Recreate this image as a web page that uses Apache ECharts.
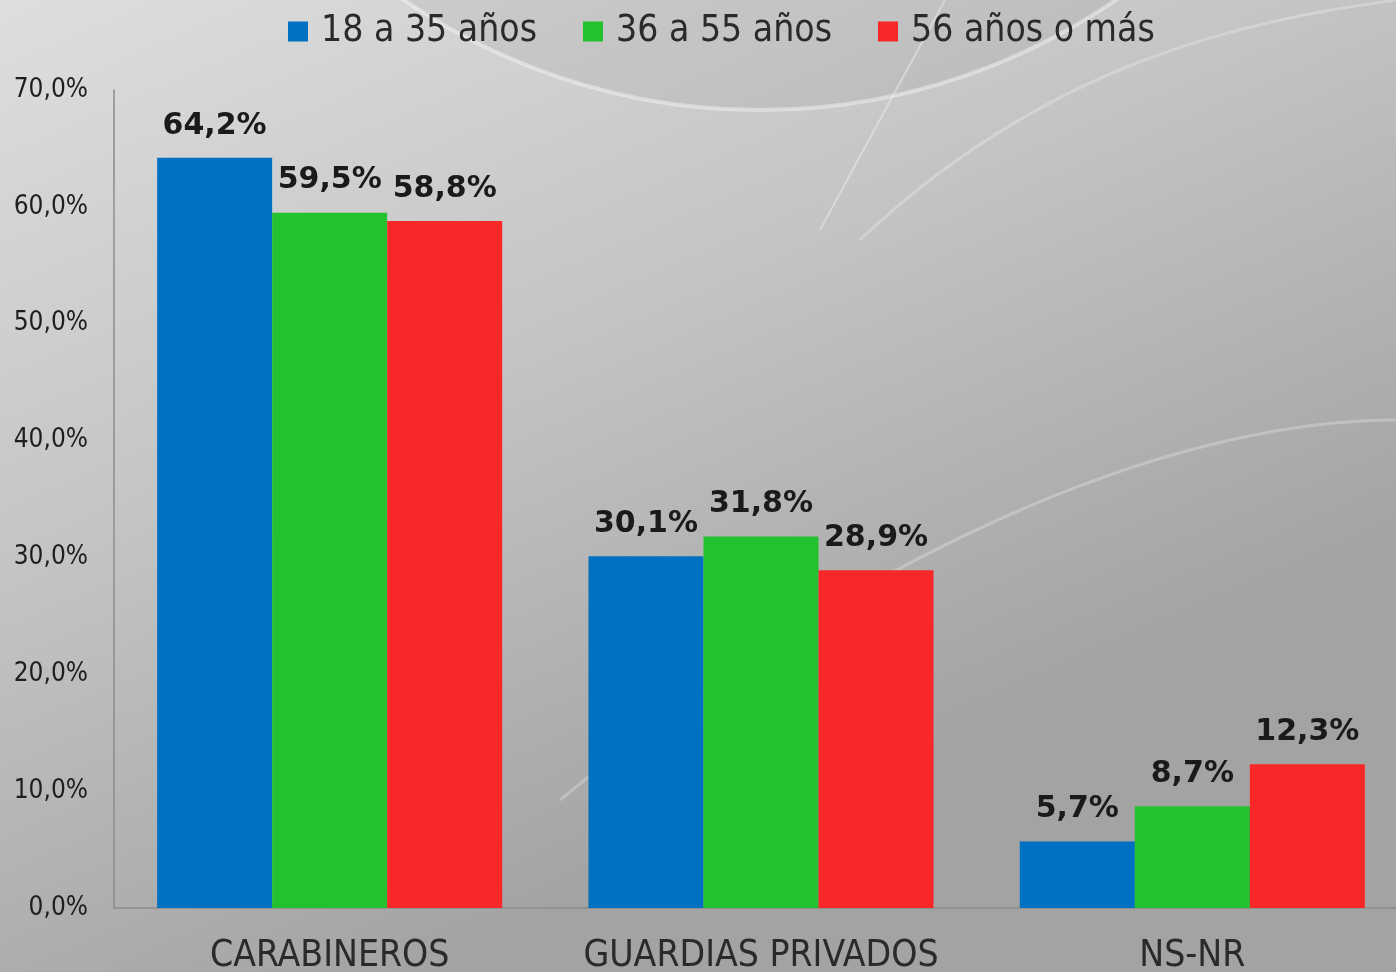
<!DOCTYPE html>
<html>
<head>
<meta charset="utf-8">
<script src="https://cdn.jsdelivr.net/npm/echarts@6/dist/echarts.min.js"></script>
<style>
  html, body { margin: 0; padding: 0; }
  #chart { width: 1396px; height: 972px; }
</style>
</head>
<body>
<div id="chart"></div>
<script>
// datos
const categorias = ['CARABINEROS', 'GUARDIAS PRIVADOS', 'NS-NR']
const grupos = ['18 a 35 años', '36 a 55 años', '56 años o más']
const joven = [64.2, 30.1, 5.7]
const medio = [59.5, 31.8, 8.7]
const mayor = [58.8, 28.9, 12.3]
const colores = ['#0070c0', '#23c12f', '#f92828']

const pct = v => v.toFixed(1).replace('.', ',') + '%'

const chart = echarts.init(document.getElementById('chart'))

const serie = (name, data) => ({
  name: name,
  type: 'bar',
  data: data,
  barGap: '0%',
  barCategoryGap: '20%',
  label: {
    show: true,
    position: 'top',
    distance: 17,
    formatter: p => pct(p.value),
    fontFamily: 'DejaVu Sans',
    fontWeight: 'bold',
    fontSize: 30,
    color: '#1a1a1a'
  }
})

const option = {
  backgroundColor: {
    type: 'linear', x: 0, y: 0, x2: 0.3, y2: 1,
    colorStops: [
      { offset: 0, color: '#dedede' },
      { offset: 0.5, color: '#c4c4c4' },
      { offset: 1, color: '#a3a3a3' }
    ]
  },
  color: colores,
  // curvas claras del fondo
  graphic: [
    {
      type: 'circle', silent: true, z: -10,
      shape: { cx: 760, cy: -520, r: 630 },
      style: { fill: 'rgba(110,110,110,0.10)', stroke: 'rgba(255,255,255,0.4)', lineWidth: 4 }
    },
    {
      type: 'bezierCurve', silent: true, z: -10,
      shape: { x1: 860, y1: 240, x2: 1396, y2: 0, cpx1: 1050, cpy1: 60, cpx2: 1250, cpy2: 20 },
      style: { fill: null, stroke: 'rgba(255,255,255,0.25)', lineWidth: 3 }
    },
    {
      type: 'bezierCurve', silent: true, z: -10,
      shape: { x1: 560, y1: 800, x2: 1396, y2: 420, cpx1: 900, cpy1: 520, cpx2: 1200, cpy2: 420 },
      style: { fill: null, stroke: 'rgba(255,255,255,0.25)', lineWidth: 3 }
    },
    {
      type: 'line', silent: true, z: -10,
      shape: { x1: 820, y1: 230, x2: 945, y2: 0 },
      style: { stroke: 'rgba(255,255,255,0.35)', lineWidth: 2 }
    }
  ],
  legend: {
    data: grupos,
    top: 8,
    left: 283,
    icon: 'rect',
    itemWidth: 20,
    itemHeight: 20,
    itemGap: 46,
    textStyle: {
      fontFamily: 'DejaVu Sans Condensed',
      fontSize: 37,
      color: '#2a2a2a',
      padding: [0, 0, 0, 8]
    }
  },
  grid: {
    left: 114,
    top: 90,
    width: 1294,
    height: 818,
    outerBoundsMode: 'none'
  },
  xAxis: {
    type: 'category',
    data: categorias,
    axisTick: { show: false },
    axisLine: { lineStyle: { color: '#8c8c8c', width: 1.5 } },
    axisLabel: {
      interval: 0,
      margin: 30,
      fontFamily: 'DejaVu Sans Condensed',
      fontSize: 37,
      color: '#2a2a2a'
    }
  },
  yAxis: {
    type: 'value',
    min: 0,
    max: 70,
    interval: 10,
    splitLine: { show: false },
    axisTick: { show: false },
    axisLine: { show: true, lineStyle: { color: '#8c8c8c', width: 1.5 } },
    axisLabel: {
      margin: 26,
      formatter: v => pct(v),
      fontFamily: 'DejaVu Sans Condensed',
      fontSize: 26,
      color: '#1e1e1e'
    }
  },
  series: [
    serie(grupos[0], joven),
    serie(grupos[1], medio),
    serie(grupos[2], mayor)
  ]
}

option && chart.setOption(option)
</script>
</body>
</html>
